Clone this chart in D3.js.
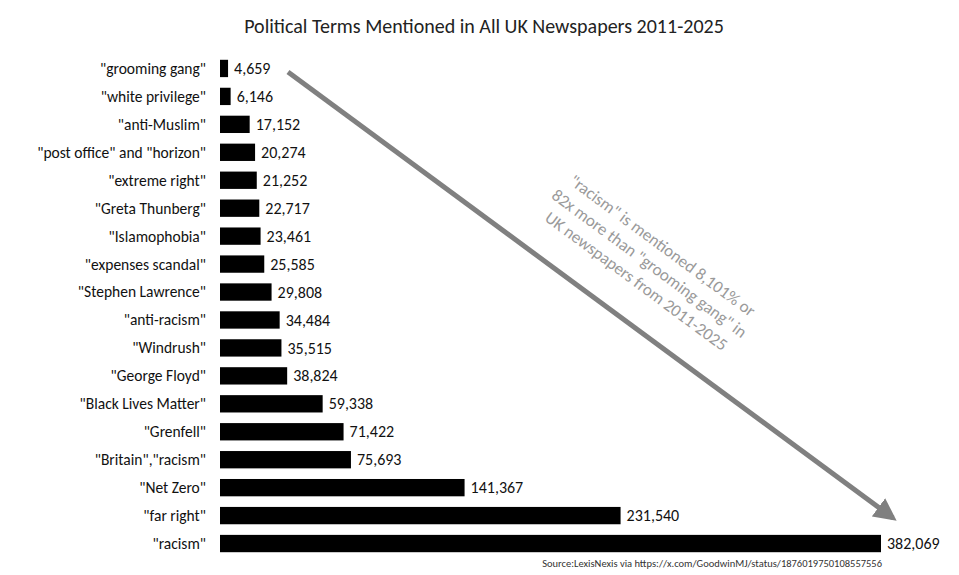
<!DOCTYPE html>
<html><head><meta charset="utf-8">
<script src="https://cdn.jsdelivr.net/npm/d3@7"></script>
<style>body{margin:0;background:#fff}</style>
</head><body>
<svg id="chart" width="959" height="575"></svg>
<script>
const terms = ['"grooming gang"', '"white privilege"', '"anti-Muslim"', '"post office" and "horizon"',
  '"extreme right"', '"Greta Thunberg"', '"Islamophobia"', '"expenses scandal"', '"Stephen Lawrence"',
  '"anti-racism"', '"Windrush"', '"George Floyd"', '"Black Lives Matter"', '"Grenfell"',
  '"Britain","racism"', '"Net Zero"', '"far right"', '"racism"'];
const mentions = [4659, 6146, 17152, 20274, 21252, 22717, 23461, 25585, 29808, 34484, 35515,
  38824, 59338, 71422, 75693, 141367, 231540, 382069];
const noteLines = ['"racism" is mentioned 8,101% or', '82x more than "grooming gang" in', 'UK newspapers from 2011-2025'];

const svg = d3.select('#chart');
const font = 'Calibri, Carlito, "Open Sans", sans-serif';

const x = d3.scaleLinear().domain([0, 382069]).range([220, 881]);
const y = d3.scaleBand().domain(terms).range([57, 555]).paddingInner(0.38).paddingOuter(0.1);

svg.append('text').attr('x', 484).attr('y', 33).attr('text-anchor', 'middle')
  .attr('font-family', font).attr('font-size', 20).attr('fill', '#222')
  .text('Political Terms Mentioned in All UK Newspapers 2011-2025');

const rows = svg.selectAll('g.row').data(terms).enter().append('g').attr('class', 'row');
rows.append('rect')
  .attr('x', x(0)).attr('y', d => y(d))
  .attr('width', (d, i) => x(mentions[i]) - x(0)).attr('height', y.bandwidth())
  .attr('fill', '#000');
rows.append('text')
  .attr('x', 206).attr('y', d => y(d) + y.bandwidth() / 2).attr('dy', '0.35em')
  .attr('text-anchor', 'end').attr('font-family', font).attr('font-size', 15.5).attr('fill', '#111')
  .text(d => d);
rows.append('text')
  .attr('x', (d, i) => x(mentions[i]) + 6).attr('y', d => y(d) + y.bandwidth() / 2).attr('dy', '0.35em')
  .attr('font-family', font).attr('font-size', 16).attr('fill', '#111')
  .text((d, i) => d3.format(',')(mentions[i]));

// arrow
svg.append('defs').append('marker').attr('id', 'head')
  .attr('viewBox', '0 0 10 10').attr('refX', 8).attr('refY', 5)
  .attr('markerWidth', 4.5).attr('markerHeight', 4.5).attr('orient', 'auto')
  .append('path').attr('d', 'M0,0L10,5L0,10z').attr('fill', '#808080');
svg.append('line').attr('x1', 288).attr('y1', 72).attr('x2', 893).attr('y2', 518)
  .attr('stroke', '#808080').attr('stroke-width', 5).attr('marker-end', 'url(#head)');

const note = svg.append('text').attr('transform', 'translate(646,268) rotate(36.4)')
  .attr('text-anchor', 'middle').attr('font-family', font).attr('font-size', 17).attr('fill', '#9a9a9a');
noteLines.forEach((t, i) => note.append('tspan').attr('x', 0).attr('y', (i - 1) * 22).text(t));

svg.append('text').attr('x', 882).attr('y', 567).attr('text-anchor', 'end')
  .attr('font-family', font).attr('font-size', 10.5).attr('fill', '#333')
  .text('Source:LexisNexis via https://x.com/GoodwinMJ/status/1876019750108557556');
</script>
</body></html>
